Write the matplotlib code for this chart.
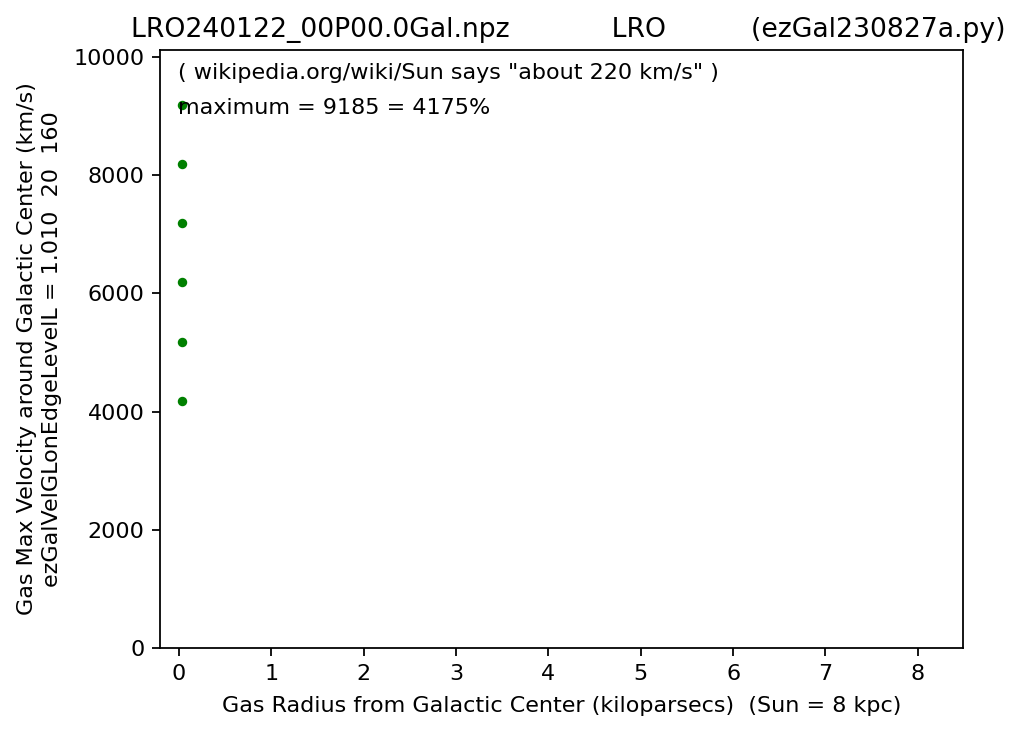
import matplotlib
matplotlib.use("Agg")
import matplotlib.pyplot as plt

radius_kpc = [0.03, 0.03, 0.03, 0.03, 0.03, 0.03]
velocity_kms = [4185, 5185, 6185, 7185, 8185, 9185]
x_ticks = [0, 1, 2, 3, 4, 5, 6, 7, 8]
y_ticks = [0, 2000, 4000, 6000, 8000, 10000]

title_text = "LRO240122_00P00.0Gal.npz            LRO          (ezGal230827a.py)"
note1 = '( wikipedia.org/wiki/Sun says "about 220 km/s" )'
note2 = "maximum = 9185 = 4175%"

fig = plt.figure(figsize=(6.4, 4.5875), dpi=160)
ax = fig.add_axes([160/1024, 86/734, 803/1024, 598/734])
ax.plot(radius_kpc, velocity_kms, 'g.', markersize=6.5)
ax.set_xlim(-0.206, 8.49)
ax.set_ylim(0, 10118)
ax.set_xticks(x_ticks)
ax.set_yticks(y_ticks)
ax.set_title(title_text, x=0.5085)
ax.set_xlabel("Gas Radius from Galactic Center (kiloparsecs)  (Sun = 8 kpc)", labelpad=5.8)
ax.set_ylabel("Gas Max Velocity around Galactic Center (km/s)\nezGalVelGLonEdgeLevelL = 1.010  20  160",
              labelpad=5.2, linespacing=1.3)
ax.text(0.022, 0.962, note1, transform=ax.transAxes, va='center', ha='left')
ax.text(0.022, 0.903, note2, transform=ax.transAxes, va='center', ha='left')
fig.savefig("out.png", dpi=160)
